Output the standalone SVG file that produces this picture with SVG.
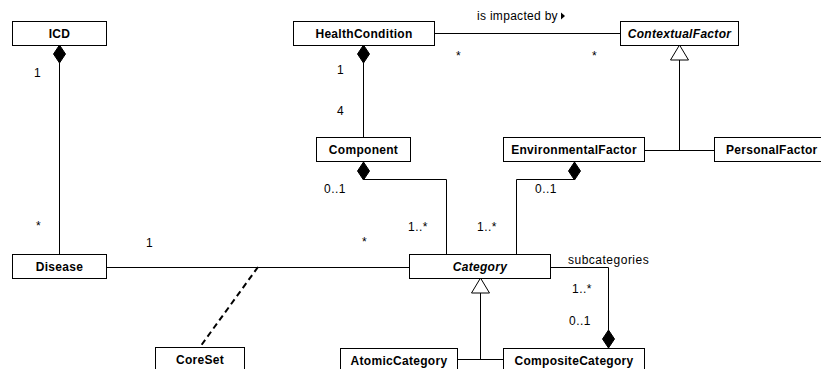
<svg xmlns="http://www.w3.org/2000/svg" width="821" height="369" viewBox="0 0 821 369">
<style>
.box{fill:#fff;stroke:#000;stroke-width:1}
.name{font-family:"Liberation Sans",Arial,sans-serif;font-size:12px;font-weight:bold;text-anchor:middle;letter-spacing:0.3px}
.abs{font-style:italic}
.lbl{font-family:"Liberation Sans",Arial,sans-serif;font-size:12px;letter-spacing:0.5px;fill:#000}
.ln{fill:none;stroke:#000;stroke-width:1}
.dia{fill:#000;stroke:#000;stroke-width:1}
.tri{fill:#fff;stroke:#000;stroke-width:1}
.dash{fill:none;stroke:#000;stroke-width:2;stroke-dasharray:6,4}
</style>
<rect width="821" height="369" fill="#fff"/>
<g id="connectors">
  <path class="ln" d="M59.5 63 V254"/>
  <polygon class="dia" points="59.5,45 65.5,54 59.5,63 53.5,54"/>
  <path class="ln" d="M363.5 63 V137"/>
  <polygon class="dia" points="363.5,45 369.5,54 363.5,63 357.5,54"/>
  <path class="ln" d="M434 33.5 H620"/>
  <path class="ln" d="M363.5 179.5 H446.5 V254"/>
  <polygon class="dia" points="363.5,162 369.5,171 363.5,180 357.5,171"/>
  <path class="ln" d="M574.5 179.5 H516.5 V254"/>
  <polygon class="dia" points="574.5,162 580.5,171 574.5,180 568.5,171"/>
  <path class="ln" d="M679.5 60 V150.5 M644 150.5 H714"/>
  <polygon class="tri" points="679.5,45 688.5,60 670.5,60"/>
  <path class="ln" d="M106 267.5 H409"/>
  <path class="dash" d="M258 267 L200 347"/>
  <path class="ln" d="M550 267.5 H608.5 V330"/>
  <polygon class="dia" points="608.5,330 614.5,339 608.5,348 602.5,339"/>
  <path class="ln" d="M480.5 293 V359.5 M457 359.5 H503"/>
  <polygon class="tri" points="480.5,278 489.5,293 471.5,293"/>
  <text class="lbl" x="34" y="77">1</text>
  <text class="lbl" x="36" y="230">*</text>
  <text class="lbl" x="146" y="247">1</text>
  <text class="lbl" x="337" y="74">1</text>
  <text class="lbl" x="337" y="115">4</text>
  <text class="lbl" x="477" y="20" style="letter-spacing:0.3px">is impacted by</text>
  <polygon points="561,12.5 565,16 561,19.5" fill="#000"/>
  <text class="lbl" x="456" y="60">*</text>
  <text class="lbl" x="592" y="60">*</text>
  <text class="lbl" x="324" y="193">0..1</text>
  <text class="lbl" x="535" y="193">0..1</text>
  <text class="lbl" x="408" y="231">1..*</text>
  <text class="lbl" x="477" y="231">1..*</text>
  <text class="lbl" x="362" y="246">*</text>
  <text class="lbl" x="568" y="264">subcategories</text>
  <text class="lbl" x="572" y="293">1..*</text>
  <text class="lbl" x="569" y="325">0..1</text>
</g>
<g id="ICD"><rect class="box" x="12.5" y="21.5" width="94" height="24"/><text class="name" x="59.5" y="38">ICD</text></g>
<g id="HealthCondition"><rect class="box" x="293.5" y="21.5" width="141" height="24"/><text class="name" x="364" y="38">HealthCondition</text></g>
<g id="ContextualFactor"><rect class="box" x="620.5" y="21.5" width="118" height="24"/><text class="name abs" x="679.5" y="38">ContextualFactor</text></g>
<g id="Component"><rect class="box" x="316.5" y="137.5" width="94" height="24"/><text class="name" x="363.5" y="154">Component</text></g>
<g id="EnvironmentalFactor"><rect class="box" x="503.5" y="137.5" width="141" height="24"/><text class="name" x="574" y="154">EnvironmentalFactor</text></g>
<g id="PersonalFactor"><rect class="box" x="714.5" y="137.5" width="118" height="24"/><text class="name" x="726" y="154" style="text-anchor:start">PersonalFactor</text></g>
<g id="Disease"><rect class="box" x="12.5" y="254.5" width="94" height="24"/><text class="name" x="59.5" y="271">Disease</text></g>
<g id="Category"><rect class="box" x="409.5" y="254.5" width="141" height="24"/><text class="name abs" x="480" y="271">Category</text></g>
<g id="CoreSet"><rect class="box" x="155.5" y="347.5" width="89" height="24"/><text class="name" x="200" y="364">CoreSet</text></g>
<g id="AtomicCategory"><rect class="box" x="340.5" y="348.5" width="117" height="24"/><text class="name" x="399" y="365">AtomicCategory</text></g>
<g id="CompositeCategory"><rect class="box" x="503.5" y="348.5" width="141" height="24"/><text class="name" x="574" y="365">CompositeCategory</text></g>
</svg>
